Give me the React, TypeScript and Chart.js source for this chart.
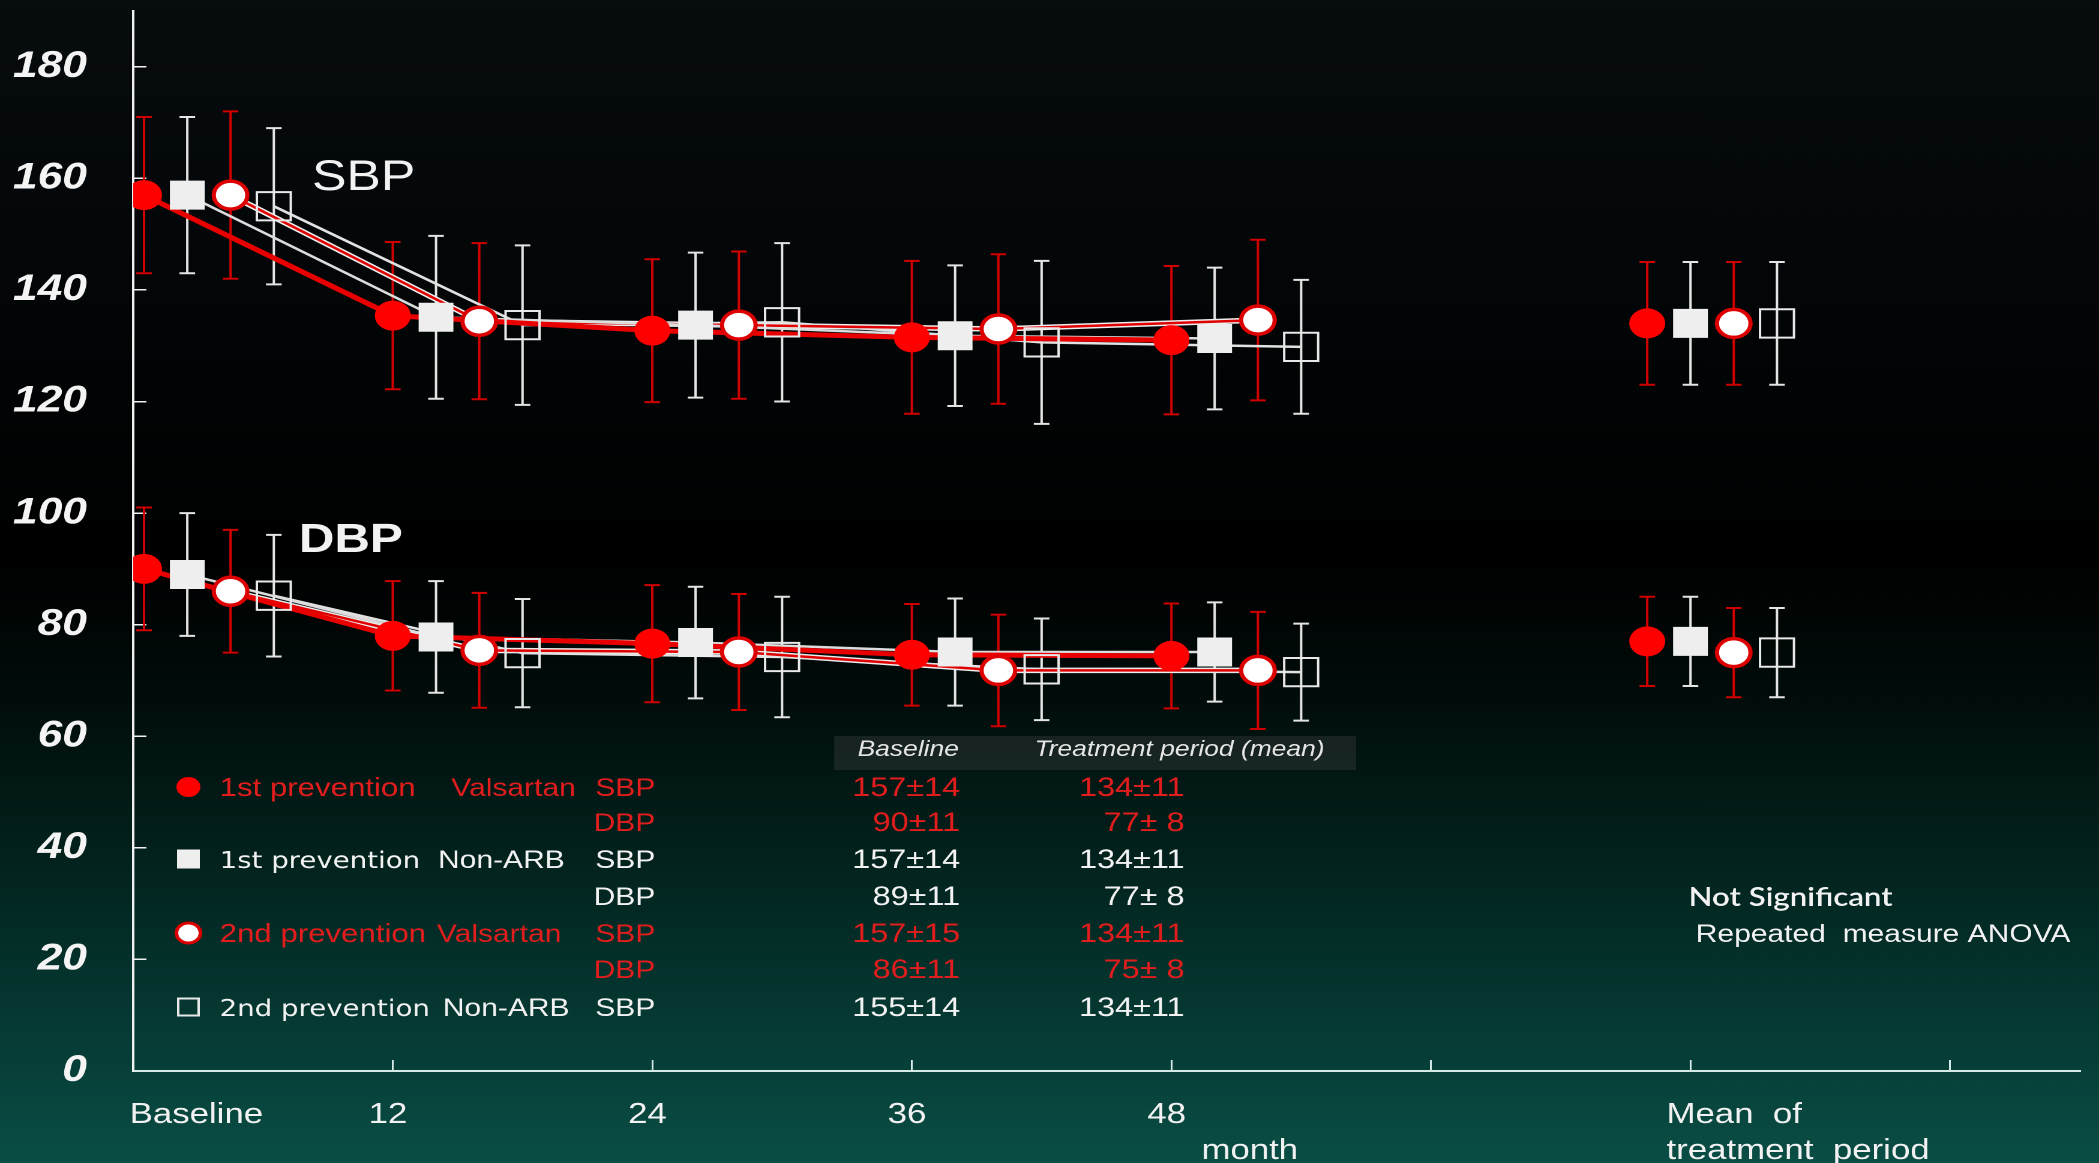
import React, { useEffect, useRef } from 'react';
import { Chart, registerables } from 'chart.js';

Chart.register(...registerables);

// ---- axis values -------------------------------------------------------
const MONTHS = [0, 12, 24, 36, 48];
const MEAN_MONTH = 72;
const X_TICKS = [0, 12, 24, 36, 48, 60, 72, 84];
const Y_TICKS = [0, 20, 40, 60, 80, 100, 120, 140, 160, 180];
const MONTH_LABELS = ['Baseline', '12', '24', '36', '48'];
const MEAN_LABEL = ['Mean  of', 'treatment  period'];
const MONTH_UNIT = 'month';

// ---- groups ------------------------------------------------------------
const GROUP_NAMES = ['1st prevention', '1st prevention', '2nd prevention', '2nd prevention'];
const DRUG_NAMES = ['Valsartan', 'Non-ARB', 'Valsartan', 'Non-ARB'];

// ---- systolic BP per visit (mean, SD) ----------------------------------
const SBP_VALSARTAN_1ST = [157, 135.4, 132.7, 131.5, 131.0];
const SBP_VALSARTAN_1ST_SD = [14, 13.2, 12.8, 13.7, 13.3];
const SBP_NONARB_1ST = [157, 135.1, 133.7, 131.8, 131.3];
const SBP_NONARB_1ST_SD = [14, 14.6, 13.0, 12.6, 12.7];
const SBP_VALSARTAN_2ND = [157, 134.4, 133.7, 133.0, 134.6];
const SBP_VALSARTAN_2ND_SD = [15, 14.0, 13.2, 13.4, 14.4];
const SBP_NONARB_2ND = [155, 133.7, 134.2, 130.6, 129.8];
const SBP_NONARB_2ND_SD = [14, 14.3, 14.2, 14.6, 12.0];

// ---- diastolic BP per visit (mean, SD) ---------------------------------
const DBP_VALSARTAN_1ST = [90, 78.0, 76.6, 74.6, 74.4];
const DBP_VALSARTAN_1ST_SD = [11, 9.8, 10.5, 9.1, 9.4];
const DBP_NONARB_1ST = [89, 77.8, 76.8, 75.1, 75.1];
const DBP_NONARB_1ST_SD = [11, 10.0, 10.0, 9.6, 8.9];
const DBP_VALSARTAN_2ND = [86, 75.4, 75.1, 71.8, 71.8];
const DBP_VALSARTAN_2ND_SD = [11, 10.3, 10.4, 10.0, 10.5];
const DBP_NONARB_2ND = [85.2, 74.9, 74.2, 72.0, 71.5];
const DBP_NONARB_2ND_SD = [10.9, 9.7, 10.8, 9.1, 8.7];

// ---- mean of the treatment period (group order as GROUP_NAMES) ---------
const SBP_TREATMENT_MEAN = [134, 134, 134, 134];
const SBP_TREATMENT_SD = [11, 11, 11, 11];
const DBP_TREATMENT_MEAN = [77, 77, 75, 75];
const DBP_TREATMENT_SD = [8, 8, 8, 8];

// rows of the summary table: [group index, measure]
const TABLE_ROWS: [number, 'SBP' | 'DBP'][] = [
  [0, 'SBP'], [0, 'DBP'], [1, 'SBP'], [1, 'DBP'], [2, 'SBP'], [2, 'DBP'], [3, 'SBP'],
];
const TABLE_HEADERS = ['Baseline', 'Treatment period (mean)'];
const NOTE_TITLE = 'Not Significant';
const NOTE_TEST = 'Repeated  measure ANOVA';

// ---- drawing setup -----------------------------------------------------
const W = 1749;
const H = 1163;
const STRETCH = 2099 / W;
const WHITE = '#f2f2f2';
const RED_TEXT = '#e21d1d';
const AXIS_X = '#d6ebe7';

type Style = {
  pointStyle: 'circle' | 'rect';
  radius: number;
  fill: string;
  border: string;
  borderWidth: number;
  line: string;
  lineWidth: number;
  halo?: string;
  haloWidth?: number;
  bar: string;
  text: string;
  nameFont: string;
  offsets: number[];
  meanOffset: number;
};

const STYLES: Style[] = [
  {
    pointStyle: 'circle', radius: 15, fill: '#ff0000', border: '#ff0000', borderWidth: 0,
    line: '#e80000', lineWidth: 5, bar: '#d00000', text: RED_TEXT,
    nameFont: '26px "Liberation Sans"', offsets: [0.5, 0, 0, 0, 0], meanOffset: -2,
  },
  {
    pointStyle: 'rect', radius: 20.5, fill: '#eeeeee', border: '#eeeeee', borderWidth: 0,
    line: '#dcdcdc', lineWidth: 2.5, bar: '#e4e4e4', text: WHITE,
    nameFont: '23px "DejaVu Sans"', offsets: [2.5, 2, 2, 2, 2], meanOffset: 0,
  },
  {
    pointStyle: 'circle', radius: 14, fill: '#ffffff', border: '#dd0000', borderWidth: 3.5,
    line: '#e00000', lineWidth: 2.5, halo: '#eeeeee', haloWidth: 5.5, bar: '#d00000', text: RED_TEXT,
    nameFont: '26px "Liberation Sans"', offsets: [4.5, 4, 4, 4, 4], meanOffset: 2,
  },
  {
    pointStyle: 'rect', radius: 20, fill: 'rgba(0,0,0,0)', border: '#e8e8e8', borderWidth: 2,
    line: '#e2e2e2', lineWidth: 2.5, bar: '#e4e4e4', text: WHITE,
    nameFont: '23px "DejaVu Sans"', offsets: [6.5, 6, 6, 6, 6], meanOffset: 4,
  },
];

const SERIES = [
  {
    key: 'SBP',
    values: [SBP_VALSARTAN_1ST, SBP_NONARB_1ST, SBP_VALSARTAN_2ND, SBP_NONARB_2ND],
    sds: [SBP_VALSARTAN_1ST_SD, SBP_NONARB_1ST_SD, SBP_VALSARTAN_2ND_SD, SBP_NONARB_2ND_SD],
    mean: SBP_TREATMENT_MEAN,
    meanSd: SBP_TREATMENT_SD,
  },
  {
    key: 'DBP',
    values: [DBP_VALSARTAN_1ST, DBP_NONARB_1ST, DBP_VALSARTAN_2ND, DBP_NONARB_2ND],
    sds: [DBP_VALSARTAN_1ST_SD, DBP_NONARB_1ST_SD, DBP_VALSARTAN_2ND_SD, DBP_NONARB_2ND_SD],
    mean: DBP_TREATMENT_MEAN,
    meanSd: DBP_TREATMENT_SD,
  },
];

function fmt(mean: number, sd: number): string {
  const s = Math.round(sd);
  return `${Math.round(mean)}±${s < 10 ? ' ' + s : s}`;
}

function buildDatasets() {
  const datasets: any[] = [];
  SERIES.forEach((series) => {
    STYLES.forEach((st, g) => {
      const pts = MONTHS.map((m, i) => ({ x: m + st.offsets[i], y: series.values[g][i] }));
      const meanPt = { x: MEAN_MONTH + st.meanOffset, y: series.mean[g] };
      const label = `${GROUP_NAMES[g]} ${DRUG_NAMES[g]} ${series.key}`;
      if (st.halo) {
        datasets.push({
          label: label + ' edge', data: pts, showLine: true, borderColor: st.halo,
          borderWidth: st.haloWidth, pointRadius: 0, tension: 0, order: 40,
        });
      }
      datasets.push({
        label: label + ' line', data: pts, showLine: true, borderColor: st.line,
        borderWidth: st.lineWidth, pointRadius: 0, tension: 0, order: 30,
      });
      datasets.push({
        label, data: [...pts, meanPt], showLine: false,
        errors: [...series.sds[g], series.meanSd[g]], errorColor: st.bar,
        pointStyle: st.pointStyle, pointRadius: st.radius,
        pointBackgroundColor: st.fill, pointBorderColor: st.border,
        pointBorderWidth: st.borderWidth, order: 10,
      });
    });
  });
  return datasets;
}

// dark slide background, black in the middle, teal towards the bottom
const backgroundPlugin = {
  id: 'slideBackground',
  beforeDraw(chart: any) {
    const { ctx } = chart;
    const g = ctx.createLinearGradient(0, 0, 0, H);
    g.addColorStop(0, '#070c0f');
    g.addColorStop(0.3, '#020506');
    g.addColorStop(0.48, '#000000');
    g.addColorStop(0.6, '#010d0b');
    g.addColorStop(0.75, '#03241f');
    g.addColorStop(0.9, '#063d36');
    g.addColorStop(1, '#0a4e45');
    ctx.save();
    ctx.fillStyle = g;
    ctx.fillRect(0, 0, chart.width, chart.height);
    ctx.restore();
  },
};

// mean ± SD whiskers, under the markers
const errorBarPlugin = {
  id: 'errorBars',
  beforeDatasetsDraw(chart: any) {
    const { ctx, scales } = chart;
    const xs = scales.x;
    const ys = scales.y;
    const cap = 6.5;
    chart.data.datasets.forEach((ds: any) => {
      if (!ds.errors) return;
      ctx.save();
      ctx.strokeStyle = ds.errorColor;
      ctx.lineWidth = 2;
      ds.data.forEach((p: any, j: number) => {
        const sd = ds.errors[j];
        const px = xs.getPixelForValue(p.x);
        const top = ys.getPixelForValue(p.y + sd);
        const bot = ys.getPixelForValue(p.y - sd);
        ctx.beginPath();
        ctx.moveTo(px, top);
        ctx.lineTo(px, bot);
        ctx.moveTo(px - cap, top);
        ctx.lineTo(px + cap, top);
        ctx.moveTo(px - cap, bot);
        ctx.lineTo(px + cap, bot);
        ctx.stroke();
      });
      ctx.restore();
    });
  },
};

function drawMarker(ctx: CanvasRenderingContext2D, st: Style, x: number, y: number) {
  ctx.save();
  if (st.pointStyle === 'circle') {
    ctx.beginPath();
    ctx.arc(x, y, 10, 0, Math.PI * 2);
    ctx.fillStyle = st.fill;
    ctx.fill();
    if (st.borderWidth > 0) {
      ctx.lineWidth = 3;
      ctx.strokeStyle = st.border;
      ctx.stroke();
    }
  } else if (st.borderWidth > 0) {
    ctx.lineWidth = 2;
    ctx.strokeStyle = st.border;
    ctx.strokeRect(x - 8.5, y - 8.5, 17, 17);
  } else {
    ctx.fillStyle = st.fill;
    ctx.fillRect(x - 9.5, y - 9.5, 19, 19);
  }
  ctx.restore();
}

// text: panel titles, month labels, summary table and test note
const annotationPlugin = {
  id: 'annotations',
  afterDraw(chart: any) {
    const { ctx, scales } = chart;
    const xs = scales.x;
    const put = (s: string, x: number, y: number, font: string, color: string, align: CanvasTextAlign = 'left') => {
      ctx.font = font;
      ctx.fillStyle = color;
      ctx.textAlign = align;
      ctx.textBaseline = 'alphabetic';
      ctx.fillText(s, x, y);
    };
    ctx.save();

    put('SBP', 260, 190, '43px "Liberation Sans"', WHITE);
    put('DBP', 249, 552, 'bold 41px "Liberation Sans"', WHITE);

    // month axis labels
    const axisFont = '29px "Liberation Sans"';
    const line1 = 1123;
    const line2 = 1159;
    put(MONTH_LABELS[0], xs.getPixelForValue(MONTHS[0]) - 3, line1, axisFont, WHITE);
    MONTHS.slice(1).forEach((m, i) => put(MONTH_LABELS[i + 1], xs.getPixelForValue(m) - 4, line1, axisFont, WHITE, 'center'));
    put(MONTH_UNIT, xs.getPixelForValue(48) + 25, line2, axisFont, WHITE);
    put(MEAN_LABEL[0], xs.getPixelForValue(MEAN_MONTH) - 20, line1, axisFont, WHITE);
    put(MEAN_LABEL[1], xs.getPixelForValue(MEAN_MONTH) - 20, line2, axisFont, WHITE);

    // summary table
    ctx.fillStyle = 'rgba(70,70,70,0.32)';
    ctx.fillRect(695, 736, 435, 34);
    put(TABLE_HEADERS[0], 799, 756, 'italic 22px "Liberation Sans"', '#e6e6e6', 'right');
    put(TABLE_HEADERS[1], 862, 756, 'italic 22px "Liberation Sans"', '#e6e6e6');

    const rowY = [787, 822, 859, 896, 933, 969, 1007];
    const drugX = [376, 365, 364, 369];
    TABLE_ROWS.forEach(([g, m], r) => {
      const st = STYLES[g];
      const series = SERIES[m === 'SBP' ? 0 : 1];
      const y = rowY[r];
      const base = y + 9;
      if (m === 'SBP') {
        drawMarker(ctx, st, 157, y);
        put(GROUP_NAMES[g], 183, base, st.nameFont, st.text);
        put(DRUG_NAMES[g], drugX[g], base, '25px "Liberation Sans"', st.text);
      }
      put(m, 546, base, '25px "Liberation Sans"', st.text, 'right');
      put(fmt(series.values[g][0], series.sds[g][0]), 800, base, '27px "Liberation Sans"', st.text, 'right');
      put(fmt(series.mean[g], series.meanSd[g]), 987, base, '27px "Liberation Sans"', st.text, 'right');
    });

    put(NOTE_TITLE, 1407, 906, '600 26px "Lato"', WHITE);
    put(NOTE_TEST, 1413, 942, '25px "Liberation Sans"', WHITE);
    ctx.restore();
  },
};

export default function App() {
  const canvasRef = useRef<HTMLCanvasElement>(null);

  useEffect(() => {
    const canvas = canvasRef.current;
    if (!canvas) return;
    const chart = new Chart(canvas, {
      type: 'line',
      data: { datasets: buildDatasets() },
      options: {
        animation: false,
        responsive: false,
        maintainAspectRatio: false,
        devicePixelRatio: 2,
        events: [],
        layout: { autoPadding: false, padding: { top: 11, right: 16, left: 0, bottom: 0 } },
        plugins: { legend: { display: false }, tooltip: { enabled: false } },
        scales: {
          x: {
            type: 'linear',
            min: 0,
            max: 90,
            afterBuildTicks: (s: any) => { s.ticks = X_TICKS.map((v) => ({ value: v })); },
            afterFit: (s: any) => {
              s.height = 92;
              s.paddingLeft = 0;
              s.paddingRight = 0;
            },
            ticks: { display: false },
            grid: { drawOnChartArea: false, drawTicks: true, tickLength: -11, color: AXIS_X, lineWidth: 1.5 },
            border: { display: true, color: AXIS_X, width: 2 },
          },
          y: {
            type: 'linear',
            min: 0,
            max: 190,
            afterBuildTicks: (s: any) => { s.ticks = Y_TICKS.map((v) => ({ value: v })); },
            afterFit: (s: any) => {
              s.width = 111;
              s.paddingTop = 0;
              s.paddingBottom = 0;
            },
            ticks: {
              color: '#f4f4f4',
              padding: 49.5,
              font: { family: 'Liberation Sans', size: 37, style: 'italic', weight: 'bold' },
            },
            grid: { drawOnChartArea: false, drawTicks: true, tickLength: -11, color: '#f0f0f0', lineWidth: 1.5 },
            border: { display: true, color: '#f0f0f0', width: 2 },
          },
        },
      } as any,
      plugins: [backgroundPlugin, errorBarPlugin, annotationPlugin],
    });
    return () => chart.destroy();
  }, []);

  return (
    <div style={{ position: 'fixed', left: 0, top: 0, width: 2099, height: H, overflow: 'hidden', background: '#000' }}>
      <div style={{ width: W, height: H, transform: `scaleX(${STRETCH})`, transformOrigin: '0 0' }}>
        <canvas ref={canvasRef} width={W} height={H} style={{ display: 'block' }} />
      </div>
    </div>
  );
}
